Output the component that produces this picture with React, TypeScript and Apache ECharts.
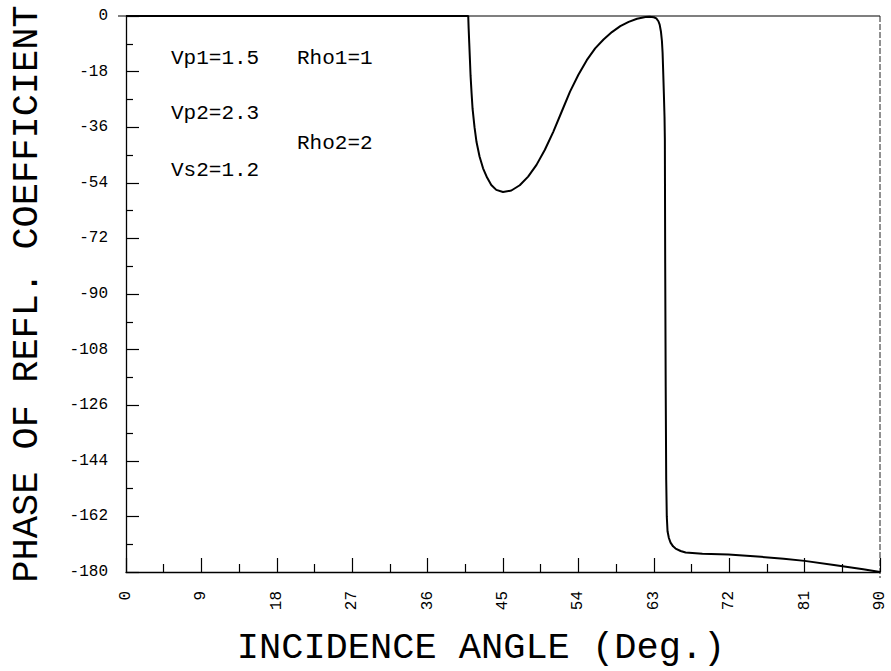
import React, { useEffect, useRef } from 'react';
import * as echarts from 'echarts';

// Incidence angle (deg) and phase of reflection coefficient (deg)
const angles = [
  0, 20, 40.5, 40.85, 40.9, 40.97, 41.05, 41.13, 41.25, 41.37, 41.6, 41.84, 42.2, 42.62,
  43.1, 43.6, 44.2, 45, 46, 47, 48, 49, 50, 51, 52,
  53, 54, 55, 56, 57, 58, 59, 60, 61, 62.0, 62.5, 63.0, 63.3, 63.55,
  63.7, 63.85, 63.97, 64.05, 64.13, 64.2, 64.28, 64.32, 64.36, 64.42, 64.48, 64.55,
  64.64, 64.8, 65.0, 65.3, 65.6, 66.2, 66.8, 68.8, 71.9, 75.8, 78.5, 81, 84.5, 88, 90,
];
const phases = [
  0, 0, 0, 0, -4, -8.7, -14, -19.4, -25, -30.1, -36, -40.8, -45.5, -49.3,
  -52.3, -54.7, -56.3, -57.0, -56.5, -54.8, -52.0, -48.2, -43.3, -37.5, -31.0,
  -24.5, -19.0, -14.3, -10.5, -7.6, -5.2, -3.3, -1.9, -0.9, -0.35, -0.25, -0.4, -0.8, -1.7,
  -2.8, -5, -8.1, -12, -18.8, -25, -32.7, -40, -80, -120, -150, -162,
  -166.8, -169, -170.5, -171.7, -172.4, -173.2, -173.7, -174.1, -174.3, -175.1, -175.7, -176.4, -177.7, -179.1, -180,
];

const xTitle = 'INCIDENCE ANGLE (Deg.)';
const yTitle = 'PHASE OF REFL. COEFFICIENT';
const paramLabels = ['Vp1=1.5', 'Rho1=1', 'Vp2=2.3', 'Rho2=2', 'Vs2=1.2'];

const FONT = '"Liberation Mono", "DejaVu Sans Mono", monospace';

export default function App() {
  const ref = useRef<HTMLDivElement>(null);

  useEffect(() => {
    const chart = echarts.init(ref.current!, null, { renderer: 'svg' });
    const L = 118, R = 880, T = 16, B = 578;
    const annPos = [
      [171, 58],
      [297, 58],
      [171, 113],
      [297, 143],
      [171, 170],
    ];
    chart.setOption({
      animation: false,
      backgroundColor: '#ffffff',
      textStyle: { fontFamily: FONT },
      grid: { left: L, right: 891 - R, top: T, bottom: 671 - B, containLabel: false },
      xAxis: {
        type: 'value',
        min: 0,
        max: 90,
        interval: 9,
        name: xTitle,
        nameLocation: 'middle',
        nameGap: 57,
        nameTextStyle: { fontSize: 37, color: '#000', fontFamily: FONT, padding: [0, 44, 0, 0] },
        axisLine: { show: true, onZero: false, lineStyle: { color: '#000', width: 1.3 } },
        axisTick: { show: true, inside: true, length: 14, lineStyle: { color: '#000', width: 1.2 } },
        minorTick: { show: true, splitNumber: 2, length: 8, lineStyle: { color: '#000', width: 1.2 } },
        axisLabel: { rotate: 90, margin: 19, fontSize: 16, color: '#000', fontFamily: FONT },
        splitLine: { show: false },
      },
      yAxis: {
        type: 'value',
        min: -180,
        max: 0,
        interval: 18,
        name: yTitle,
        nameLocation: 'middle',
        nameRotate: 90,
        nameGap: 81,
        nameTextStyle: { fontSize: 37, color: '#000', fontFamily: FONT },
        axisLine: { show: true, onZero: false, lineStyle: { color: '#000', width: 1.3 } },
        axisTick: { show: true, inside: true, length: 13, lineStyle: { color: '#000', width: 1.2 } },
        minorTick: { show: true, splitNumber: 2, length: 7, lineStyle: { color: '#000', width: 1.2 } },
        axisLabel: { margin: 18, fontSize: 16, color: '#000', fontFamily: FONT },
        splitLine: { show: false },
      },
      series: [
        {
          type: 'line',
          data: angles.map((a, i) => [a, phases[i]]),
          showSymbol: false,
          smooth: false,
          lineStyle: { color: '#000', width: 2 },
          clip: false,
        },
      ],
      graphic: [
        {
          type: 'line',
          shape: { x1: L, y1: T, x2: R, y2: T },
          style: { stroke: '#000', lineWidth: 1.1 },
          silent: true,
        },
        {
          type: 'line',
          shape: { x1: R, y1: T, x2: R, y2: B },
          style: { stroke: '#222', lineWidth: 1, lineDash: [6, 2] },
          silent: true,
        },
        ...paramLabels.map((t, i) => ({
          type: 'text',
          x: annPos[i][0],
          y: annPos[i][1],
          style: {
            text: t,
            font: `21px ${FONT}`,
            fill: '#000',
            verticalAlign: 'middle',
            align: 'left',
          },
        })),
      ],
    });
    return () => chart.dispose();
  }, []);

  return (
    <div
      ref={ref}
      style={{ position: 'fixed', left: 0, top: 0, width: 891, height: 671, background: '#fff' }}
    />
  );
}
